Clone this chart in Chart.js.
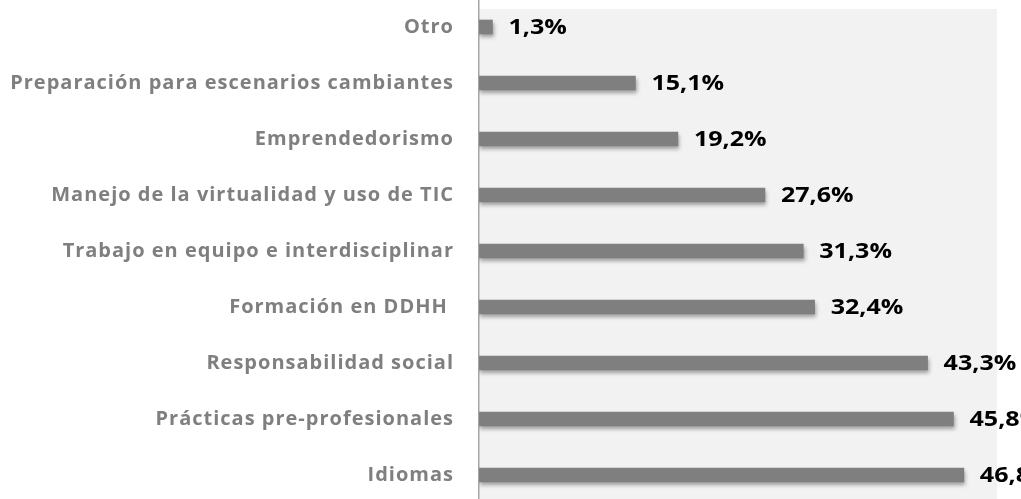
<!DOCTYPE html>
<html>
<head>
<meta charset="utf-8">
<script src="https://cdn.jsdelivr.net/npm/chart.js@4"></script>
<style>
  html, body { margin: 0; padding: 0; background: #ffffff; overflow: hidden; width: 1021px; height: 499px; }
  #wrap { position: absolute; left: 0; top: -1px; width: 1021px; height: 504px; }
</style>
</head>
<body>
<div id="wrap"><canvas id="c" width="1021" height="504"></canvas></div>
<script>
const categories = [
  "Otro",
  "Preparación para escenarios cambiantes",
  "Emprendedorismo",
  "Manejo de la virtualidad y uso de TIC",
  "Trabajo en equipo e interdisciplinar",
  "Formación en DDHH ",
  "Responsabilidad social",
  "Prácticas pre-profesionales",
  "Idiomas"
];
const values = [1.3, 15.1, 19.2, 27.6, 31.3, 32.4, 43.3, 45.8, 46.8];
const axisMin = 0;
const axisMax = 50;

const FONT = "'Open Sans', sans-serif";

const bgPlugin = {
  id: 'plotBg',
  beforeDraw(chart) {
    const a = chart.chartArea, ctx = chart.ctx;
    ctx.save();
    ctx.fillStyle = '#f2f2f2';
    ctx.fillRect(a.left, a.top + 10, a.right - a.left, a.bottom - a.top - 10);
    ctx.restore();
    ctx.letterSpacing = '1px';
  },
  beforeDatasetsDraw(chart) {
    chart.ctx.letterSpacing = '0px';
  }
};

const shadowPlugin = {
  id: 'barShadow',
  beforeDatasetDraw(chart) {
    const ctx = chart.ctx;
    ctx.save();
    ctx.shadowColor = 'rgba(0,0,0,0.35)';
    ctx.shadowBlur = 4;
    ctx.shadowOffsetX = 1;
    ctx.shadowOffsetY = 3;
  },
  afterDatasetDraw(chart) {
    chart.ctx.restore();
  }
};

const labelPlugin = {
  id: 'valueLabels',
  afterDatasetsDraw(chart) {
    const ctx = chart.ctx;
    const meta = chart.getDatasetMeta(0);
    meta.data.forEach((bar, i) => {
      const txt = values[i].toFixed(1).replace('.', ',') + '%';
      ctx.save();
      ctx.letterSpacing = '0px';
      ctx.font = "bold 22px " + FONT;
      ctx.fillStyle = '#000000';
      ctx.textAlign = 'left';
      ctx.textBaseline = 'middle';
      ctx.translate(bar.x + 16, bar.y + 1);
      ctx.scale(1.14, 1);
      ctx.fillText(txt, 0, 0);
      ctx.restore();
    });
  }
};

new Chart(document.getElementById('c'), {
  type: 'bar',
  data: {
    labels: categories,
    datasets: [{
      data: values,
      backgroundColor: '#7f7f7f',
      borderWidth: 0,
      barThickness: 14
    }]
  },
  options: {
    indexAxis: 'y',
    responsive: false,
    animation: false,
    layout: { padding: { top: 0, bottom: 0, left: 0, right: 24 } },
    plugins: { legend: { display: false }, tooltip: { enabled: false } },
    scales: {
      x: { display: false, min: axisMin, max: axisMax },
      y: {
        afterFit(scale) { scale.width = 479; scale.paddingTop = 0; scale.paddingBottom = 0; },
        grid: { display: false, drawTicks: false },
        border: { display: true, color: '#a6a6a6', width: 1.5 },
        ticks: {
          padding: 25,
          color: '#7f7f7f',
          font: { family: FONT, size: 20, weight: 'bold' }
        }
      }
    }
  },
  plugins: [bgPlugin, shadowPlugin, labelPlugin]
});
</script>
</body>
</html>
